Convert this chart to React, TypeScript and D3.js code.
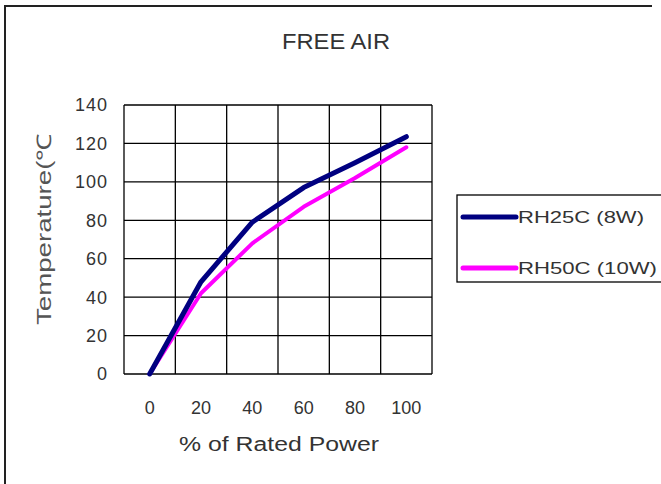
import { useRef, useEffect } from 'react';
import * as d3 from 'd3';

const categories = ['0', '20', '40', '60', '80', '100'];
const rh25c = [0, 48, 79, 97, 110, 123.5];
const rh50c = [0, 42, 68, 87, 102, 118];
const yTicks = [0, 20, 40, 60, 80, 100, 120, 140];
const seriesNames = ['RH25C (8W)', 'RH50C (10W)'];
const seriesColors = ['#000080', '#ff00ff'];

export default function App() {
  const svgRef = useRef<SVGSVGElement>(null);
  const width = 661;
  const height = 484;

  useEffect(() => {
    document.body.style.margin = '0';
    const svg = d3.select(svgRef.current);
    svg.selectAll('*').remove();
    const font = '"Liberation Sans", Arial, sans-serif';
    const ink = '#333';

    const plot = { left: 124, right: 432, top: 105, bottom: 374 };

    const x = d3.scaleBand().domain(categories).range([plot.left, plot.right]);
    const y = d3.scaleLinear().domain([0, 140]).range([plot.bottom, plot.top]);

    // outer frame (only top and left edges show)
    svg.append('path')
      .attr('d', `M5,${height} L5,6 L652,6`)
      .attr('fill', 'none')
      .attr('stroke', '#222')
      .attr('stroke-width', 2);

    svg.append('text')
      .attr('x', 336).attr('y', 49)
      .attr('text-anchor', 'middle')
      .attr('font-family', font).attr('font-size', 22)
      .attr('textLength', 108).attr('lengthAdjust', 'spacingAndGlyphs')
      .attr('fill', ink)
      .text('FREE AIR');

    // grid
    const g = svg.append('g');
    g.selectAll('line.h')
      .data(yTicks)
      .join('line')
      .attr('class', 'h')
      .attr('x1', plot.left).attr('x2', plot.right)
      .attr('y1', (d) => y(d)).attr('y2', (d) => y(d))
      .attr('stroke', '#000').attr('stroke-width', 1.3);

    const xEdges = categories.map((c) => x(c)!).concat([plot.right]);
    g.selectAll('line.v')
      .data(xEdges)
      .join('line')
      .attr('class', 'v')
      .attr('x1', (d) => d).attr('x2', (d) => d)
      .attr('y1', plot.top).attr('y2', plot.bottom)
      .attr('stroke', '#000').attr('stroke-width', 1.3);

    // y tick labels
    svg.selectAll('text.yt')
      .data(yTicks)
      .join('text')
      .attr('class', 'yt')
      .attr('x', 108).attr('y', (d) => y(d))
      .attr('dy', '0.36em')
      .attr('text-anchor', 'end')
      .attr('font-family', font).attr('font-size', 18)
      .attr('letter-spacing', 1)
      .attr('fill', ink)
      .text((d) => d);

    // x tick labels
    svg.selectAll('text.xt')
      .data(categories)
      .join('text')
      .attr('class', 'xt')
      .attr('x', (d) => x(d)! + x.bandwidth() / 2).attr('y', 414)
      .attr('text-anchor', 'middle')
      .attr('font-family', font).attr('font-size', 18)
      .attr('fill', ink)
      .text((d) => d);

    svg.append('text')
      .attr('x', 279).attr('y', 451)
      .attr('text-anchor', 'middle')
      .attr('font-family', font).attr('font-size', 20)
      .attr('textLength', 200).attr('lengthAdjust', 'spacingAndGlyphs')
      .attr('fill', ink)
      .text('% of Rated Power');

    svg.append('text')
      .attr('transform', 'translate(51,229) rotate(-90)')
      .attr('text-anchor', 'middle')
      .attr('font-family', font).attr('font-size', 20)
      .attr('textLength', 192).attr('lengthAdjust', 'spacingAndGlyphs')
      .attr('fill', '#555')
      .text('Temperature(℃');

    // lines
    const line = d3.line<number>()
      .x((_, i) => x(categories[i])! + x.bandwidth() / 2)
      .y((d) => y(d));

    [rh50c, rh25c].forEach((s, idx) => {
      const si = idx === 0 ? 1 : 0;
      svg.append('path')
        .datum(s)
        .attr('d', line)
        .attr('fill', 'none')
        .attr('stroke', seriesColors[si])
        .attr('stroke-width', si === 0 ? 5 : 4)
        .attr('stroke-linejoin', 'round')
        .attr('stroke-linecap', 'round');
    });

    // legend
    const legend = svg.append('g');
    legend.append('rect')
      .attr('x', 457).attr('y', 195)
      .attr('width', 215).attr('height', 87)
      .attr('fill', 'none').attr('stroke', '#000').attr('stroke-width', 1.3);

    const legendY = [217, 268];
    const legendLen = [126, 139];
    seriesNames.forEach((name, i) => {
      legend.append('line')
        .attr('x1', 463).attr('x2', 516)
        .attr('y1', legendY[i]).attr('y2', legendY[i])
        .attr('stroke', seriesColors[i])
        .attr('stroke-width', 5)
        .attr('stroke-linecap', 'round');
      legend.append('text')
        .attr('x', 518).attr('y', legendY[i])
        .attr('dy', '0.36em')
        .attr('font-family', font).attr('font-size', 17)
        .attr('textLength', legendLen[i]).attr('lengthAdjust', 'spacingAndGlyphs')
        .attr('fill', ink)
        .text(name);
    });
  }, []);

  return (
    <svg
      ref={svgRef}
      width={width}
      height={height}
      style={{ display: 'block', background: '#fff' }}
    />
  );
}
